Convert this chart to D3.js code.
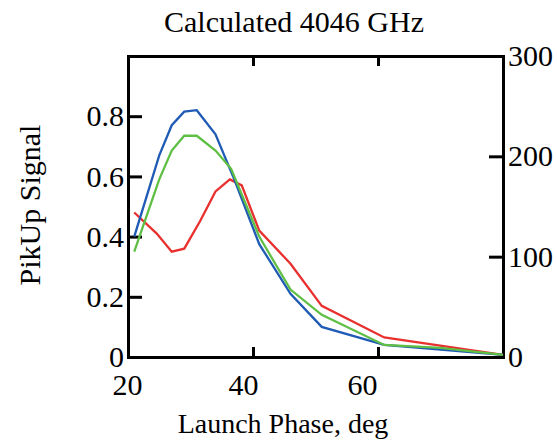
<!DOCTYPE html>
<html><head><meta charset="utf-8">
<script src="https://cdn.jsdelivr.net/npm/d3@7"></script>
<style>body{margin:0;background:#fff}text{font-family:"Liberation Serif",serif}</style>
</head><body>
<svg id="chart" width="557" height="442"></svg>
<script>
// phase (deg) and signal values
var blueX = [21, 25, 27, 29, 31, 34, 37, 41, 46, 51, 61, 80];
var blueY = [0.40, 0.67, 0.77, 0.815, 0.82, 0.74, 0.59, 0.375, 0.21, 0.10, 0.04, 0.007];
var greenX = [21, 25, 27, 29, 31, 34, 36.5, 41, 46, 51, 61, 70, 80];
var greenY = [0.35, 0.59, 0.686, 0.735, 0.735, 0.686, 0.625, 0.40, 0.224, 0.14, 0.04, 0.03, 0.007];
var redX = [21, 24.6, 27, 29, 31.5, 34, 36.3, 38.2, 41, 46, 51, 61, 80];
var redY = [0.48, 0.41, 0.35, 0.36, 0.45, 0.55, 0.59, 0.57, 0.42, 0.31, 0.17, 0.065, 0.007];
var xTicks = [20, 40, 60];
var leftTicks = [0, 0.2, 0.4, 0.6, 0.8];
var rightTicks = [0, 100, 200, 300];

var svg = d3.select("#chart");
var L = 128, R = 503, T = 56, B = 357;
var x = d3.scaleLinear().domain([20, 80]).range([L, R]);
var y = d3.scaleLinear().domain([0, 1]).range([B, T]);
var y2 = d3.scaleLinear().domain([0, 300]).range([B, T]);

svg.append("text").attr("x", 294).attr("y", 32).attr("text-anchor", "middle")
    .attr("font-size", 30).text("Calculated 4046 GHz");

// ticks point into the plot
var gx = svg.append("g").attr("transform", "translate(0," + B + ")")
    .call(d3.axisBottom(x).tickValues(xTicks).tickSize(-10).tickPadding(17).tickFormat(d3.format("d")));
// labels sit a little left of their ticks in the original
gx.selectAll(".tick text").attr("dx", function(d){ return d == 20 ? -1 : d == 40 ? -10 : -16; });
svg.append("g").attr("transform", "translate(0," + T + ")")
    .call(d3.axisTop(x).tickValues(xTicks).tickSize(-10).tickFormat(""));
svg.append("g").attr("transform", "translate(" + L + ",0)")
    .call(d3.axisLeft(y).tickValues(leftTicks).tickSize(-14).tickPadding(4)
        .tickFormat(function(d){ return d == 0 ? "0" : d3.format(".1f")(d); }));
svg.append("g").attr("transform", "translate(" + R + ",0)")
    .call(d3.axisRight(y2).tickValues(rightTicks).tickSize(-14).tickPadding(5).tickFormat(d3.format("d")));

svg.selectAll(".domain").attr("stroke-width", 3).attr("stroke", "#000");
svg.selectAll(".tick line").attr("stroke-width", 3);
svg.selectAll("g").attr("font-size", 30).attr("font-family", "Liberation Serif");
svg.selectAll(".tick text").attr("fill", "#000");

var line = d3.line().x(function(d){ return x(d[0]); }).y(function(d){ return y(d[1]); });
function draw(xs, ys, color) {
    svg.append("path").datum(d3.zip(xs, ys)).attr("d", line)
        .attr("fill", "none").attr("stroke", color).attr("stroke-width", 2.3);
}
draw(redX, redY, "#e8302e");
draw(blueX, blueY, "#1f5bb5");
draw(greenX, greenY, "#5fbf45");

svg.append("text").attr("x", 283).attr("y", 433).attr("text-anchor", "middle")
    .attr("font-size", 28).text("Launch Phase, deg");
svg.append("text").attr("transform", "translate(40,205) rotate(-90)").attr("text-anchor", "middle")
    .attr("font-size", 30).text("PikUp Signal");
</script>
</body></html>
